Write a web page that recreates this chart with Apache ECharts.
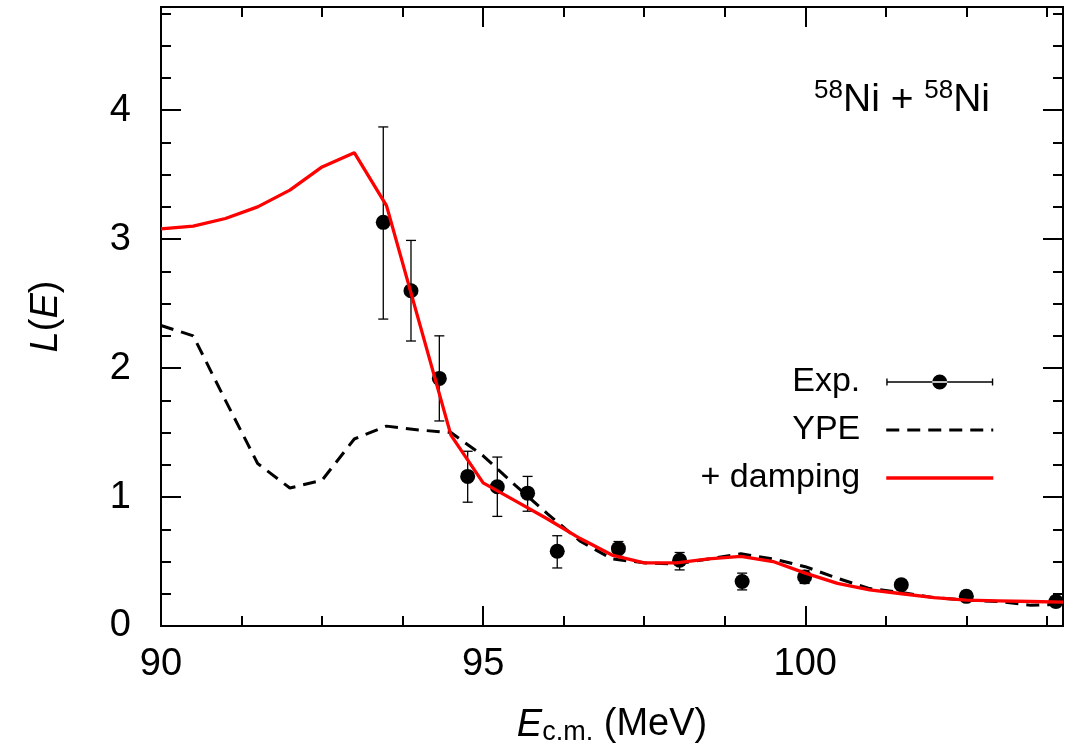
<!DOCTYPE html>
<html>
<head>
<meta charset="utf-8">
<script src="https://cdn.jsdelivr.net/npm/echarts@6/dist/echarts.min.js"></script>
<style>
html,body{margin:0;padding:0;background:#fff;}
#chart{width:1070px;height:754px;}
</style>
</head>
<body>
<div id="chart"></div>
<script>
// ---- data ----
const energyGrid = [90, 90.5, 91, 91.5, 92, 92.5, 93, 93.5, 94, 94.5, 95, 95.5, 96, 96.5, 97, 97.5, 98, 98.5, 99, 99.5, 100, 100.5, 101, 101.5, 102, 102.5, 103, 103.5, 104];
const ypeValues = [2.33, 2.25, 1.75, 1.26, 1.07, 1.13, 1.45, 1.55, 1.52, 1.50, 1.32, 1.09, 0.87, 0.66, 0.52, 0.49, 0.48, 0.52, 0.56, 0.52, 0.46, 0.37, 0.29, 0.26, 0.22, 0.20, 0.19, 0.16, 0.17];
const dampingValues = [3.08, 3.10, 3.16, 3.25, 3.38, 3.56, 3.67, 3.26, 2.37, 1.48, 1.11, 0.97, 0.83, 0.68, 0.55, 0.49, 0.49, 0.52, 0.54, 0.50, 0.41, 0.33, 0.28, 0.25, 0.22, 0.20, 0.195, 0.19, 0.185];

const expEnergy = [93.45, 93.88, 94.32, 94.76, 95.22, 95.69, 96.15, 97.10, 98.05, 99.02, 99.99, 101.49, 102.50, 103.89];
const expValue  = [3.13, 2.60, 1.92, 1.16, 1.08, 1.03, 0.58, 0.60, 0.51, 0.345, 0.38, 0.32, 0.23, 0.19];
const expLow    = [2.38, 2.21, 1.59, 0.96, 0.85, 0.89, 0.45, 0.54, 0.435, 0.28, 0.33, 0.28, 0.19, 0.15];
const expHigh   = [3.87, 2.99, 2.25, 1.355, 1.31, 1.16, 0.70, 0.655, 0.57, 0.41, 0.43, 0.36, 0.27, 0.23];

const xMajorTicks = [90, 95, 100];
const yMajorTicks = [0, 1, 2, 3, 4];

// ---- build ----
const FONT = 'Liberation Sans, Arial, Helvetica, sans-serif';
const ypeData = energyGrid.map((e, i) => [e, ypeValues[i]]);
const dampData = energyGrid.map((e, i) => [e, dampingValues[i]]);
const expData = expEnergy.map((e, i) => [e, expValue[i]]);
const errData = expEnergy.map((e, i) => [e, expLow[i], expHigh[i]]);

const black = '#000';
function xAxisDef(pos, interval, len, labels, extra) {
  return Object.assign({
    type: 'value', min: 90, max: 104, interval: interval, position: pos,
    axisLine: { show: true, onZero: false, lineStyle: { color: black, width: 2 } },
    axisTick: { show: true, inside: true, length: len, lineStyle: { color: black, width: 2 } },
    axisLabel: { show: labels, showMaxLabel: false, fontSize: 38, color: black, fontFamily: FONT, margin: 20,
      formatter: v => xMajorTicks.includes(v) ? String(v) : '' },
    splitLine: { show: false }
  }, extra || {});
}
function yAxisDef(pos, interval, len, labels, extra) {
  return Object.assign({
    type: 'value', min: 0, max: 4.8, interval: interval, position: pos,
    axisLine: { show: true, onZero: false, lineStyle: { color: black, width: 2 } },
    axisTick: { show: true, inside: true, length: len, lineStyle: { color: black, width: 2 } },
    axisLabel: { show: labels, showMaxLabel: false, fontSize: 38, color: black, fontFamily: FONT, margin: 30,
      formatter: v => yMajorTicks.includes(v) ? String(v) : '' },
    splitLine: { show: false }
  }, extra || {});
}

const expIcon = 'path://M0 6.85 L107 6.85 L107 8.15 L0 8.15 Z M0 4 L1.4 4 L1.4 11 L0 11 Z M105.6 4 L107 4 L107 11 L105.6 11 Z M46 7.5 A7.5 7.5 0 1 0 61 7.5 A7.5 7.5 0 1 0 46 7.5 Z';

const option = {
  animation: false,
  backgroundColor: '#fff',
  grid: { left: 161, right: 7, top: 7, bottom: 128, containLabel: false },
  title: {
    text: '{s|58}{n|Ni + }{s|58}{n|Ni}',
    right: 80, top: 78, padding: 0,
    textStyle: {
      fontWeight: 'normal',
      rich: {
        s: { fontSize: 26, fontFamily: FONT, color: black, fontWeight: 'normal', verticalAlign: 'top', lineHeight: 24 },
        n: { fontSize: 39, fontFamily: FONT, color: black, fontWeight: 'normal', lineHeight: 44 }
      }
    }
  },
  legend: {
    data: [
      { name: 'Exp.', icon: expIcon, itemStyle: { color: black, opacity: 1 } },
      { name: 'YPE', itemStyle: { opacity: 0 }, lineStyle: { width: 3.2, color: black, type: [13, 8] } },
      { name: '+ damping', itemStyle: { opacity: 0 }, lineStyle: { width: 3.5, color: '#ff0000' } }
    ],
    orient: 'vertical', align: 'right', right: 75, top: 365, padding: 0,
    itemWidth: 107, itemHeight: 15, itemGap: 14,
    textStyle: { fontSize: 34, fontFamily: FONT, color: black, lineHeight: 34, padding: [0, 21, 0, 0] }
  },
  xAxis: [
    xAxisDef('bottom', 5, 20, true, {
      name: '{i|E}{sub|c.m.} (MeV)', nameLocation: 'middle', nameGap: 78,
      nameTextStyle: { fontSize: 38, fontFamily: FONT, color: black, lineHeight: 42,
        rich: { i: { fontStyle: 'italic', fontSize: 38, fontFamily: FONT, color: black, lineHeight: 42 },
                sub: { fontSize: 27, fontFamily: FONT, color: black, verticalAlign: 'bottom', lineHeight: 24 } } }
    }),
    xAxisDef('bottom', 1.25, 10, false),
    xAxisDef('top', 5, 20, false),
    xAxisDef('top', 1.25, 10, false)
  ],
  yAxis: [
    yAxisDef('left', 1, 20, true, {
      name: '{i|L}({i|E})', nameLocation: 'middle', nameGap: 96, nameRotate: 90,
      nameTextStyle: { fontSize: 38, fontFamily: FONT, color: black,
        rich: { i: { fontStyle: 'italic', fontSize: 38, fontFamily: FONT, color: black } } }
    }),
    yAxisDef('left', 0.25, 10, false),
    yAxisDef('right', 1, 20, false),
    yAxisDef('right', 0.25, 10, false)
  ],
  series: [
    {
      name: 'YPE', type: 'line', data: ypeData, symbol: 'none', z: 2,
      lineStyle: { color: black, width: 3, type: [13, 8] }, itemStyle: { color: black }
    },
    {
      name: 'errbars', type: 'custom', data: errData, z: 3,
      encode: { x: 0, y: [1, 2] },
      renderItem: function (params, api) {
        const x = api.value(0);
        const lo = api.coord([x, api.value(1)]);
        const hi = api.coord([x, api.value(2)]);
        const cw = 5;
        const st = { stroke: black, lineWidth: 1.3 };
        return {
          type: 'group',
          children: [
            { type: 'line', shape: { x1: lo[0], y1: lo[1], x2: hi[0], y2: hi[1] }, style: st },
            { type: 'line', shape: { x1: lo[0] - cw, y1: lo[1], x2: lo[0] + cw, y2: lo[1] }, style: st },
            { type: 'line', shape: { x1: hi[0] - cw, y1: hi[1], x2: hi[0] + cw, y2: hi[1] }, style: st }
          ]
        };
      }
    },
    {
      name: 'Exp.', type: 'scatter', data: expData, symbol: 'circle', symbolSize: 15, z: 4,
      itemStyle: { color: black, opacity: 1 }
    },
    {
      name: '+ damping', type: 'line', data: dampData, symbol: 'none', z: 5,
      lineStyle: { color: '#ff0000', width: 3.3 }, itemStyle: { color: '#ff0000' }
    }
  ]
};

const chart = echarts.init(document.getElementById('chart'), null, { renderer: 'canvas' });
chart.setOption(option);
</script>
</body>
</html>
